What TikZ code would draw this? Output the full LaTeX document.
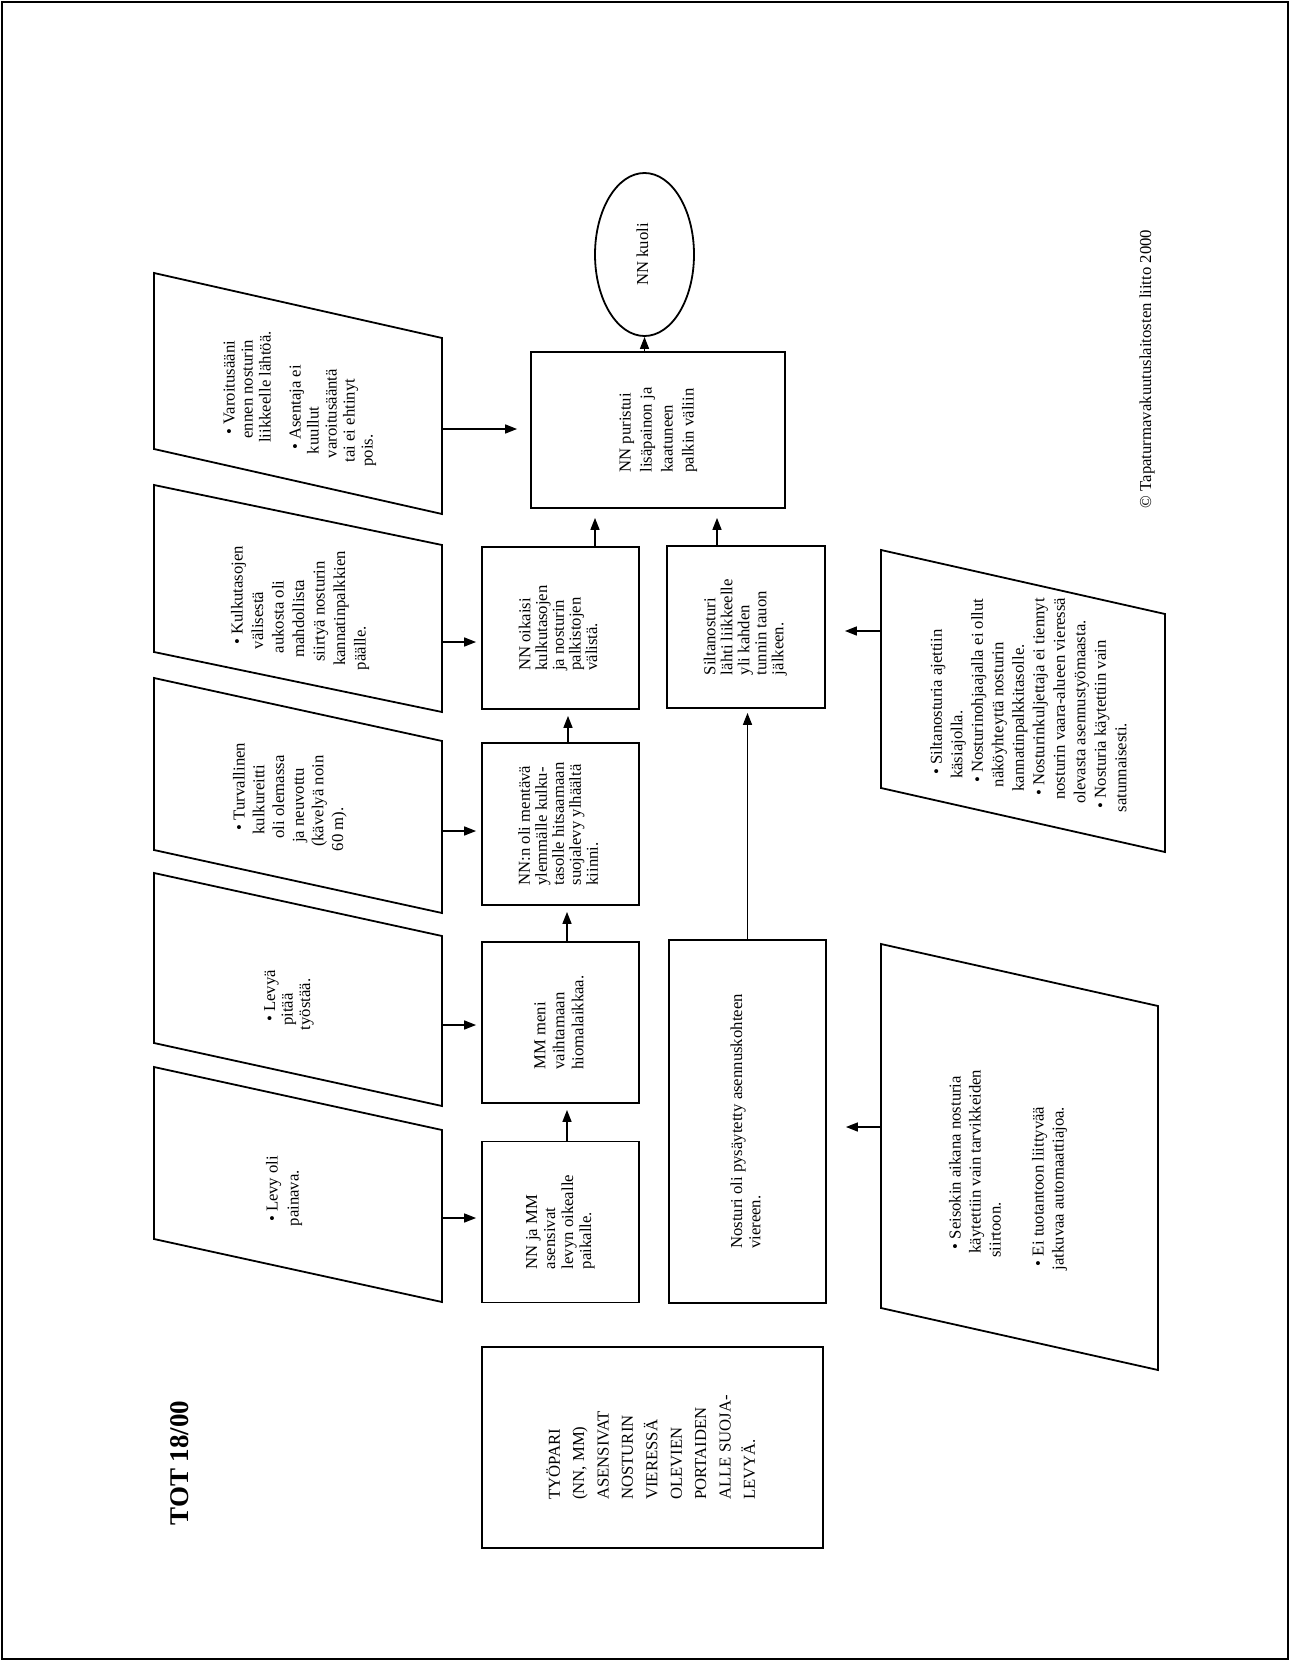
\documentclass[tikz,border=0pt]{standalone}
\usepackage{fontspec}
\setmainfont{Liberation Serif}
\usepackage{graphicx}
\usetikzlibrary{arrows.meta,shapes.geometric}
\newlength\padstep
\setlength\padstep{4.2pt}
\newcommand{\lpad}[1]{\hspace*{#1\padstep}}
\newcommand{\vtext}[2][18pt]{\rotatebox{90}{\fontsize{16.7pt}{#1}\selectfont\begin{tabular}{@{}l@{}}#2\end{tabular}}}
\tikzset{
  box/.style={draw,line width=1.8pt,inner sep=0pt},
  slantline/.style={draw,line width=1.8pt,line join=miter},
  arr/.style={line width=1.5pt,-{Triangle[length=12pt,width=9pt]},shorten >=6pt},
}
\begin{document}
\begin{tikzpicture}[x=1pt,y=-1pt]
\useasboundingbox (0,0) rectangle (1290,1661);
\draw[line width=2pt] (2,2) rectangle (1288,1659);
% title and copyright
\node[rotate=90,font=\fontsize{27pt}{32pt}\selectfont\bfseries] (tot) at (180,1463) {TOT 18/00};
\node[rotate=90,font=\fontsize{16.7pt}{20pt}\selectfont] (copy) at (1147,369) {\textcopyright\ Tapaturmavakuutuslaitosten liitto 2000};
% event boxes
\node[box,minimum width=341pt,minimum height=201pt] (start) at (652.5,1447.5) {\vtext[24.4pt]{TYÖPARI\\(NN, MM)\\ASENSIVAT\\NOSTURIN\\VIERESSÄ\\OLEVIEN\\PORTAIDEN\\ALLE SUOJA-\\LEVYÄ.}};
\node[box,minimum width=157pt,minimum height=161pt] (b1) at (560.5,1222) {\vtext[18pt]{NN ja MM\\asensivat\\levyn oikealle\\paikalle.}};
\node[box,minimum width=157pt,minimum height=161pt] (b2) at (560.5,1022.5) {\vtext[19pt]{MM meni\\vaihtamaan\\hiomalaikkaa.}};
\node[box,minimum width=157pt,minimum height=162pt] (b3) at (560.5,824) {\vtext[17pt]{NN:n oli mentävä\\ylemmälle kulku-\\tasolle hitsaamaan\\suojalevy ylhäältä\\kiinni.}};
\node[box,minimum width=157pt,minimum height=162pt] (b4) at (560.5,628) {\vtext[16.7pt]{NN oikaisi\\kulkutasojen\\ja nosturin\\palkistojen\\välistä.}};
\node[box,minimum width=254pt,minimum height=156pt] (big) at (658,430) {\vtext[21pt]{NN puristui\\lisäpainon ja\\kaatuneen\\palkin väliin}};
\node[draw,ellipse,line width=1.8pt,inner sep=0pt,minimum width=99pt,minimum height=163pt] (kuoli) at (644.5,254.5) {\vtext{NN kuoli}};
\node[box,minimum width=158pt,minimum height=162pt] (b5) at (746,627) {\vtext[17pt]{Siltanosturi\\lähti liikkeelle\\yli kahden\\tunnin tauon\\jälkeen.}};
\node[box,minimum width=157pt,minimum height=363pt] (b6) at (747.5,1121.5) {\vtext[18.3pt]{Nosturi oli pysäytetty asennuskohteen\\viereen.}};
% condition frames, left
\draw[slantline] (154,273) -- (442,338) -- (442,514) -- (154,449) -- cycle;
\draw[slantline] (154,485) -- (442,545) -- (442,712) -- (154,652) -- cycle;
\draw[slantline] (154,678) -- (442,741) -- (442,913) -- (154,850) -- cycle;
\draw[slantline] (154,873) -- (442,936) -- (442,1106) -- (154,1043) -- cycle;
\draw[slantline] (154,1067) -- (442,1130) -- (442,1302) -- (154,1239) -- cycle;
\node (p1) at (300,399) {\vtext[18pt]{\lpad{7.7}•\ Varoitusääni\\\lpad{6.7}ennen nosturin\\\lpad{5.7}liikkeelle lähtöä.\\[12pt]\lpad{4}•\ Asentaja ei\\\lpad{3}kuullut\\\lpad{2}varoitusääntä\\\lpad{1}tai ei ehtinyt\\pois.}};
\node (p2) at (300,608) {\vtext[20.5pt]{\lpad{6}•\ Kulkutasojen\\\lpad{5}välisestä\\\lpad{4}aukosta oli\\\lpad{3}mahdollista\\\lpad{2}siirtyä nosturin\\\lpad{1}kannatinpalkkien\\päälle.}};
\node (p3) at (290,797) {\vtext[19.7pt]{\lpad{5}•\ Turvallinen\\\lpad{4}kulkureitti\\\lpad{3}oli olemassa\\\lpad{2}ja neuvottu\\\lpad{1}(kävelyä noin\\60 m).}};
\node (p4) at (289,1000) {\vtext[17.5pt]{\lpad{2}•\ Levyä\\\lpad{1}pitää\\työstää.}};
\node (p5) at (284,1191) {\vtext[21pt]{\lpad{1}•\ Levy oli\\painava.}};
% condition frames, right
\draw[slantline] (881,550) -- (1165,614) -- (1165,852) -- (881,788) -- cycle;
\draw[slantline] (881,944) -- (1158,1006) -- (1158,1370) -- (881,1308) -- cycle;
\node (r1) at (1030,705) {\vtext[20.5pt]{\lpad{9}•\ Siltanosturia ajettiin\\\lpad{8}käsiajolla.\\\lpad{7}•\ Nosturinohjaajalla ei ollut\\\lpad{6}näköyhteyttä nosturin\\\lpad{5}kannatinpalkkitasolle.\\\lpad{4}•\ Nosturinkuljettaja ei tiennyt\\\lpad{3}nosturin vaara-alueen vieressä\\\lpad{2}olevasta asennustyömaasta.\\\lpad{1}•\ Nosturia käytettiin vain\\satunnaisesti.}};
\node (r2) at (1008,1170) {\vtext[20pt]{\lpad{5}•\ Seisokin aikana nosturia\\\lpad{4}käytettiin vain tarvikkeiden\\\lpad{3}siirtoon.\\[23pt]\lpad{1}•\ Ei tuotantoon liittyvää\\jatkuvaa automaattiajoa.}};
% arrow start points on the frames
\coordinate (p1r) at (442,429);
\coordinate (p2r) at (442,642);
\coordinate (p3r) at (442,831);
\coordinate (p4r) at (442,1025);
\coordinate (p5r) at (442,1218);
\coordinate (r1l) at (881,631);
\coordinate (r2l) at (881,1127);
\draw[arr,shorten >=13pt] (p1r) -- (p1r -| big.west);
\draw[arr,shorten >=5pt] (p2r) -- (p2r -| b4.west);
\draw[arr,shorten >=5pt] (p3r) -- (p3r -| b3.west);
\draw[arr,shorten >=5pt] (p4r) -- (p4r -| b2.west);
\draw[arr,shorten >=5pt] (p5r) -- (p5r -| b1.west);
\draw[arr,shorten >=19pt] (r1l) -- (r1l -| b5.east);
\draw[arr,shorten >=19pt] (r2l) -- (r2l -| b6.east);
% chain of events
\draw[arr] ([xshift=6.5pt]b1.north) -- ([xshift=6.5pt]b2.south);
\draw[arr] ([xshift=6.5pt]b2.north) -- ([xshift=6.5pt]b3.south);
\draw[arr] ([xshift=7.5pt]b3.north) -- ([xshift=7.5pt]b4.south);
\draw[arr,shorten >=9pt] ([xshift=34.5pt]b4.north) -- ([xshift=34.5pt]b4.north |- big.south);
\draw[arr,shorten >=9pt] ([xshift=-29pt]b5.north) -- ([xshift=-29pt]b5.north |- big.south);
\draw[arr,shorten >=4pt] (b6.north) -- (b6.north |- b5.south);
\draw[arr,shorten >=0pt] (big.north -| kuoli.south) -- (kuoli.south);
\end{tikzpicture}
\end{document}
